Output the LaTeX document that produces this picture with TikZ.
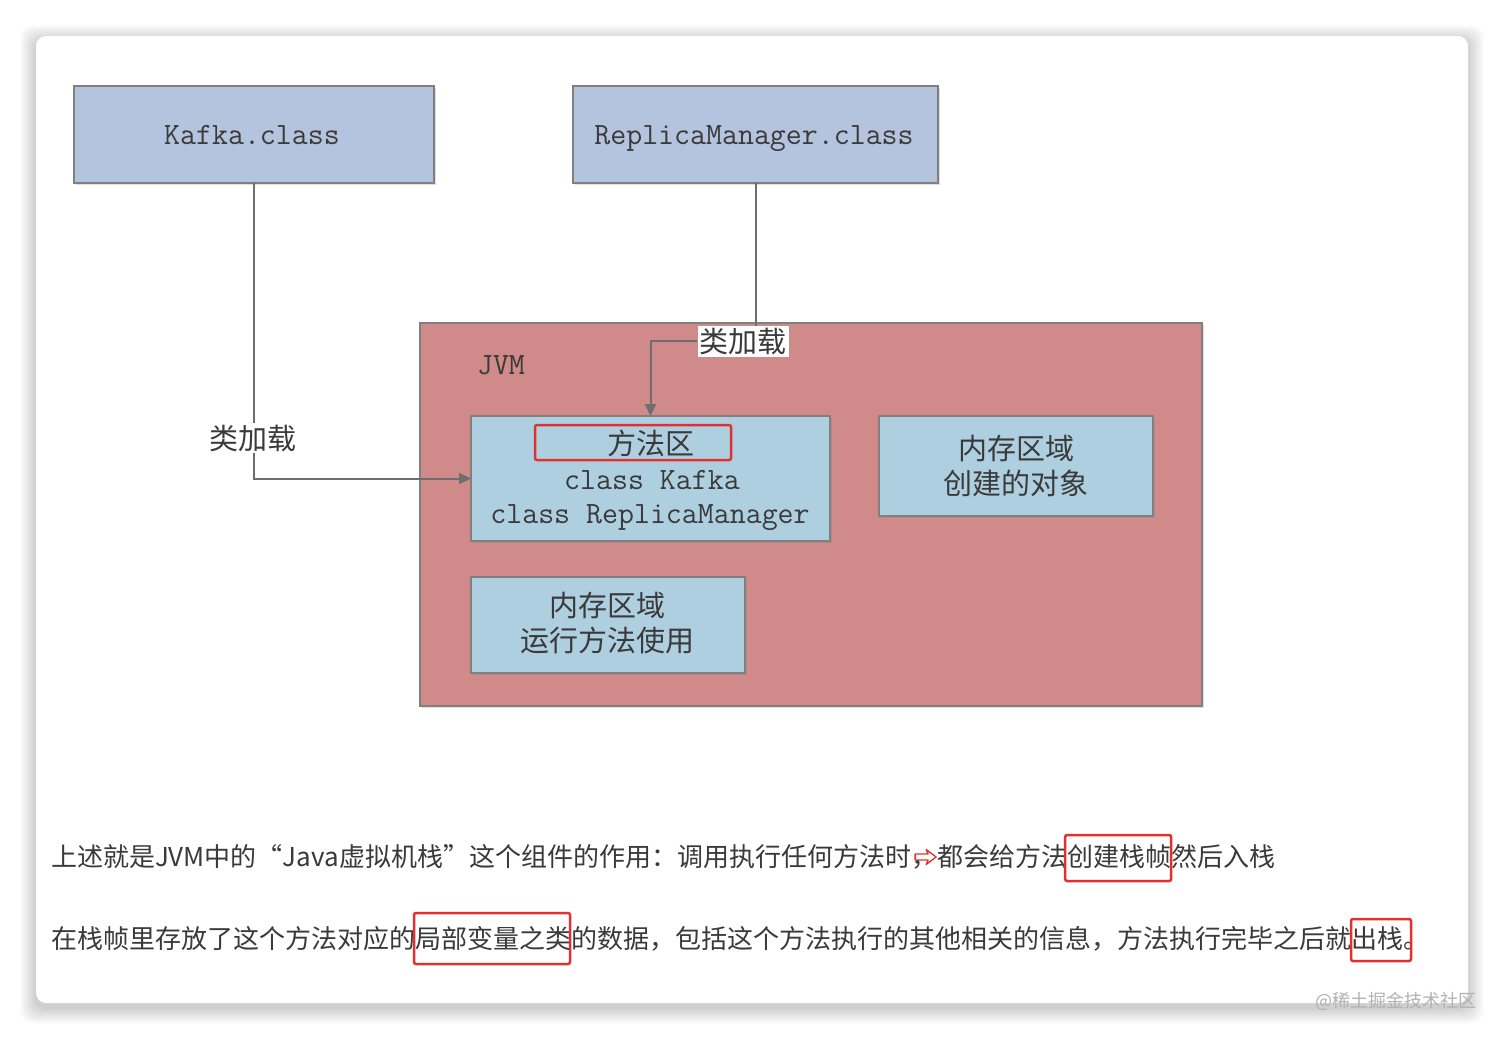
\documentclass[tikz,border=0pt]{standalone}
\usepackage{fontspec}
\newfontfamily\cjk{Noto Sans CJK SC}
\usetikzlibrary{arrows.meta,shadows,calc}
\definecolor{topfill}{RGB}{180,195,222}
\definecolor{jvmfill}{RGB}{207,138,137}
\definecolor{innerfill}{RGB}{174,207,224}
\definecolor{edge}{RGB}{128,128,128}
\definecolor{conncol}{RGB}{110,110,110}
\definecolor{ink}{RGB}{58,58,58}
\definecolor{redmark}{RGB}{226,48,48}
\tikzset{
  box/.style={draw=edge, line width=2pt, outer sep=0pt, inner sep=0pt,
    drop shadow={shadow xshift=2pt, shadow yshift=-2pt, opacity=0.25}},
  monotxt/.style={font=\ttfamily\fontsize{31}{33}\selectfont, text=ink, inner sep=0pt, anchor=base},
  cjktxt/.style={font=\cjk\fontsize{29}{35}\selectfont, text=ink, inner sep=0pt, align=center},
  lbl/.style={font=\cjk\fontsize{29}{30}\selectfont, text=ink, fill=white, inner sep=2pt},
  conn/.style={draw=conncol, line width=2pt},
  tip/.style={-{Triangle[length=12pt,width=11pt]}},
  body/.style={font=\cjk\fontsize{26}{30}\selectfont, text=ink, inner sep=0pt, outer sep=0pt, anchor=base west},
  redline/.style={draw=redmark, line width=2.5pt, rounded corners=2pt}
}
\begin{document}
\begin{tikzpicture}[x=1pt,y=-1pt]
\useasboundingbox (0,0) rectangle (1504,1040);
\fill[white] (0,0) rectangle (1504,1040);
% card shadow
\foreach \i in {1,...,16}{
  \fill[black, opacity=0.011, rounded corners=12pt] (36-\i,36-\i+5) rectangle (1468+\i,1003+\i+5);
}
\fill[white, rounded corners=10pt] (36,36) rectangle (1468,1003);

% top boxes
\node[box, fill=topfill, minimum width=360pt, minimum height=97pt] (kafka) at (254,134.5) {};
\node[monotxt] (kafkat) at (252,144.5) {Kafka.class};
\node[box, fill=topfill, minimum width=365pt, minimum height=97pt] (rm) at (755.5,134.5) {};
\node[monotxt] (rmt) at (754,144.5) {ReplicaManager.class};

% JVM
\node[box, fill=jvmfill, minimum width=782pt, minimum height=383pt] (jvm) at (811,514.5) {};
\node[monotxt] (jvmt) at (501,374.5) {JVM};

% method area
\node[box, fill=innerfill, minimum width=359pt, minimum height=125pt] (method) at (650.5,478.5) {};
\node[redline, minimum width=196pt, minimum height=35pt, inner sep=0pt] (mred) at (633,442.5) {};
\node[cjktxt] (mt1) at (651,443) {方法区};
\node[monotxt] (mt2) at (652,489.5) {class Kafka};
\node[monotxt] (mt3) at (650,523.5) {class ReplicaManager};

% object box
\node[box, fill=innerfill, minimum width=274pt, minimum height=100pt] (obj) at (1016,466) {};
\node[cjktxt] (objt) at (1016,465.5) {内存区域\\创建的对象};

% run box
\node[box, fill=innerfill, minimum width=274pt, minimum height=96pt] (run) at (608,625) {};
\node[cjktxt] (runt) at (607,623) {内存区域\\运行方法使用};

% connectors
\node[lbl] (lbl2) at (743,341.5) {类加载};
\draw[conn] (rm.south) -- (rm.south |- lbl2.north);
\draw[conn, tip] (lbl2.west) -| (method.north);
\draw[conn, tip] (kafka.south) |- (method.west);
\node[lbl] (lbl1) at (252.5,438) {类加载};

% body text line 1
\node[body] (l1a) at (51,866) {上述就是JVM中的“Java虚拟机栈”这个组件的作用：调用执行任何方法时，};
\node[body] (l1b) at (l1a.base east) {都会给方法};
\node[body] (l1c) at (l1b.base east) {创建栈帧};
\node[body] (l1d) at (l1c.base east) {然后入栈};
\draw[redmark, line width=1.3pt, line join=round, shift={($(l1b.base west)+(-1,-9)$)}]
  (-21,-3) -- (-8,-3) -- (-10,-7.5) -- (0,0) -- (-10,7.5) -- (-8,3) -- (-21,3) -- cycle;
\draw[redline] ($(l1c.base west)+(-2,-31)$) rectangle ($(l1c.base east)+(0,15)$);

% body text line 2
\node[body] (l2a) at (51,948) {在栈帧里存放了这个方法对应的};
\node[body] (l2b) at (l2a.base east) {局部变量之类};
\node[body] (l2c) at (l2b.base east) {的数据，包括这个方法执行的其他相关的信息，方法执行完毕之后就};
\node[body] (l2d) at (l2c.base east) {出栈};
\node[body] (l2e) at (l2d.base east) {。};
\draw[redline] ($(l2b.base west)+(-1,-35)$) rectangle ($(l2b.base east)+(-1,16)$);
\draw[redline] ($(l2d.base west)+(0,-29)$) rectangle ($(l2d.base east)+(8,13)$);

% watermark
\node[font=\cjk\fontsize{18}{20}\selectfont, text=black!30, anchor=east, inner sep=0pt] (wm) at (1477,1001) {@稀土掘金技术社区};
\end{tikzpicture}
\end{document}
